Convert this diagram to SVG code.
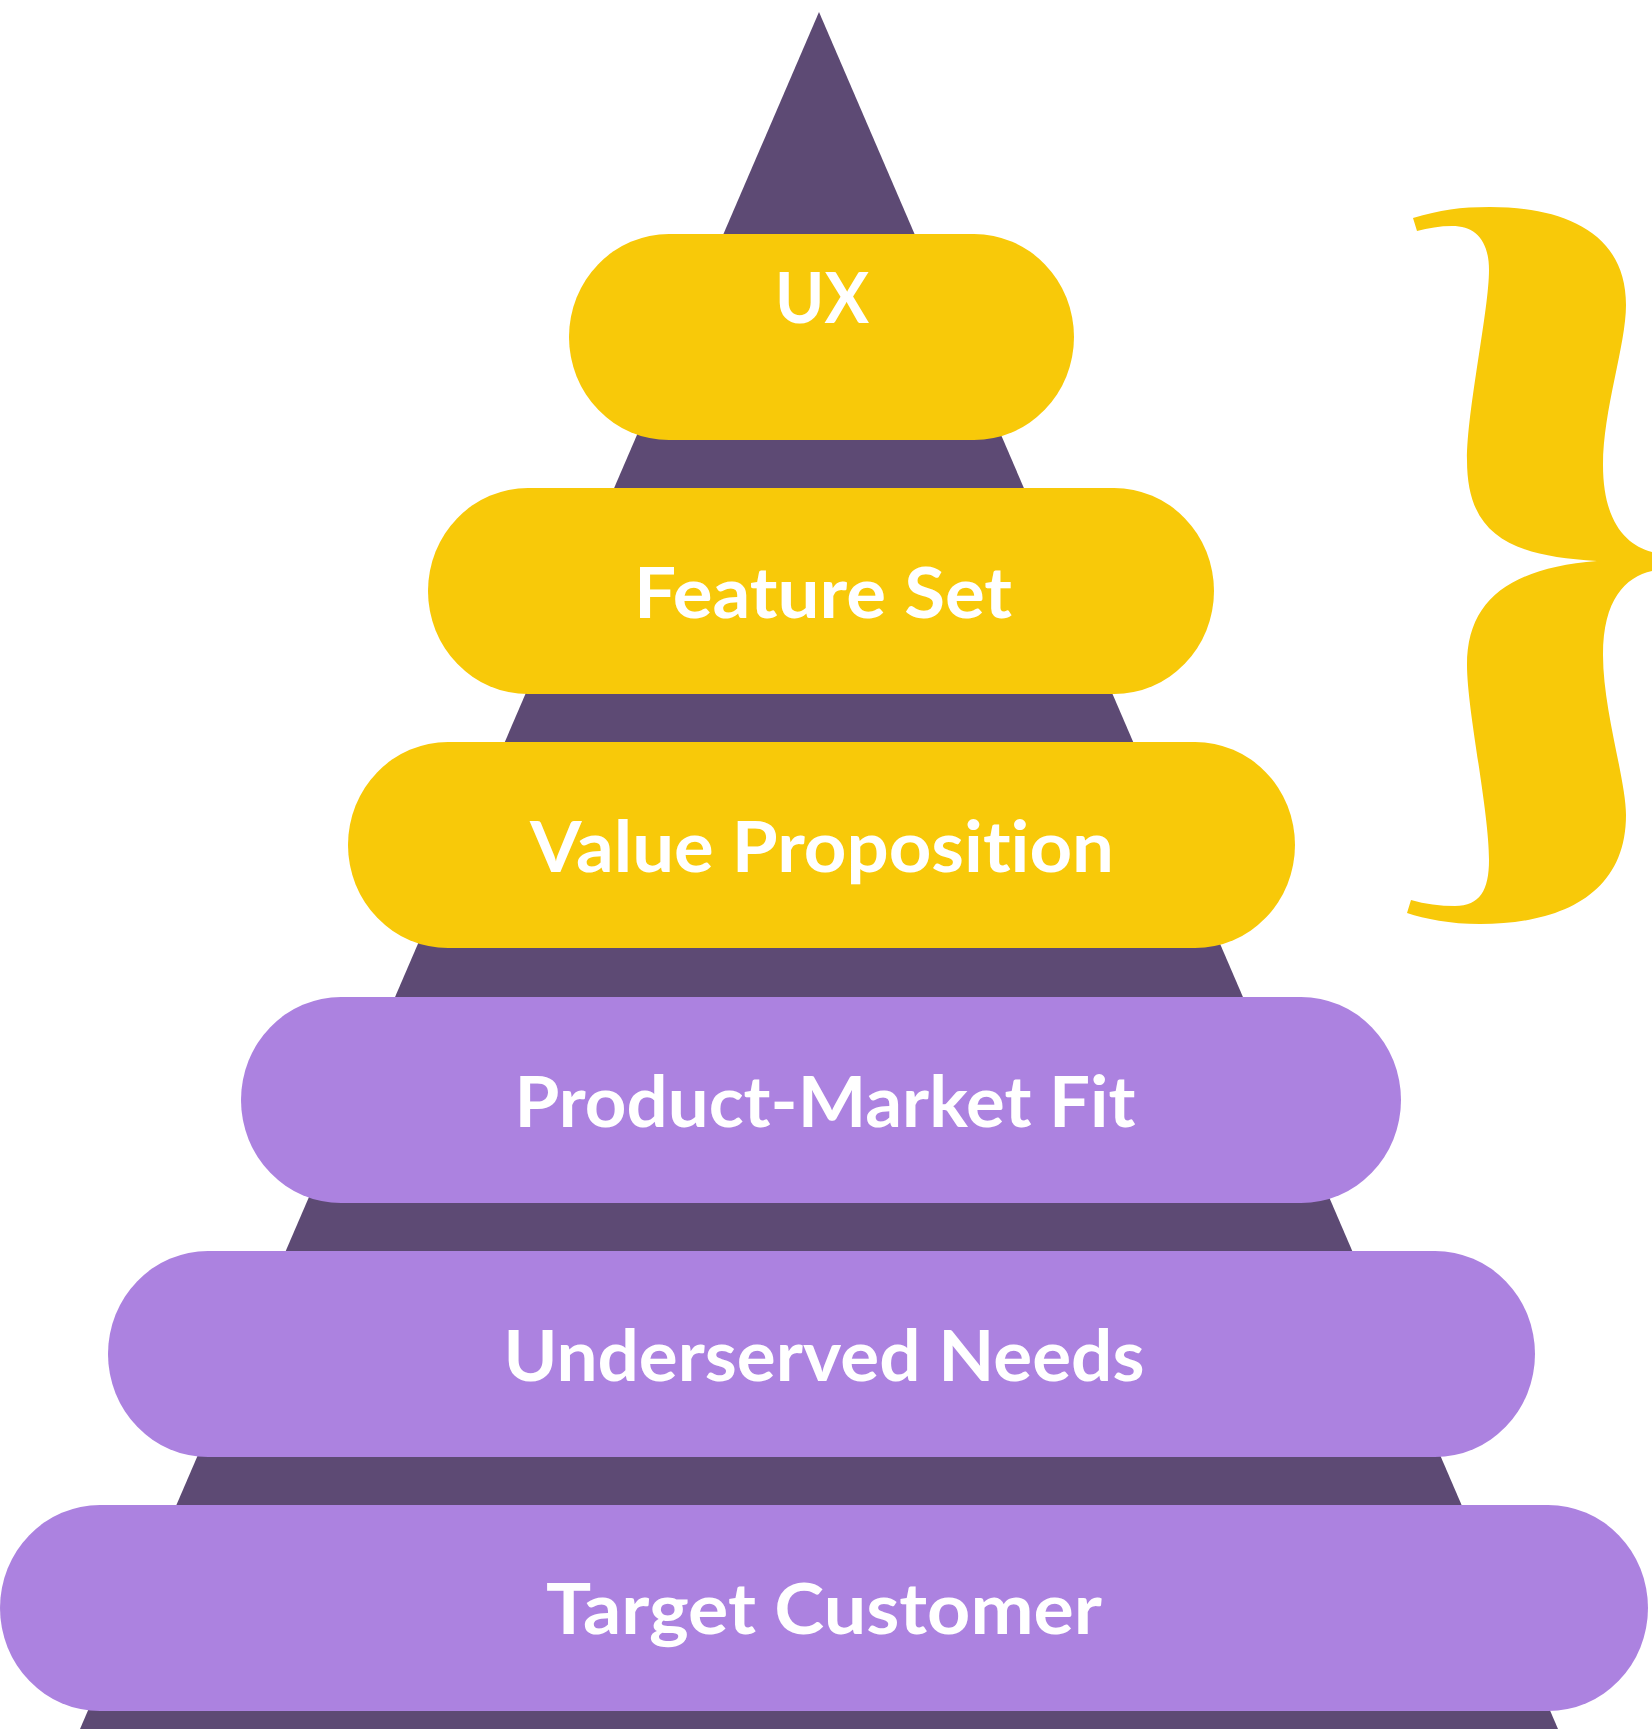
<svg xmlns="http://www.w3.org/2000/svg" width="1652" height="1729" viewBox="0 0 1652 1729">
<style>
.tri{fill:#5D4A74}
.y{fill:#F8C909}
.p{fill:#AC82E0}
.t{font-family:"Lato","Noto Sans","Liberation Sans",sans-serif;font-weight:700;font-size:70px;fill:#FFFFFF;text-anchor:middle;font-variant-ligatures:none;font-feature-settings:"liga" 0,"clig" 0,"dlig" 0}
</style>
<rect width="1652" height="1729" fill="#FFFFFF"/>
<polygon id="pyramid" class="tri" points="819,12 1558,1729 80,1729"/>
<path id="brace" class="y" d="M 1413 218 C 1440 210, 1460 207, 1490 207 C 1560 207, 1626 230, 1626 305 C 1626 345, 1603 410, 1603 465 C 1603 520, 1625 545, 1652 552 L 1652 571 C 1625 577, 1603 600, 1603 655 C 1603 710, 1626 780, 1626 815 C 1626 895, 1560 924, 1480 924 C 1450 924, 1425 919, 1407 913 L 1411 900 C 1425 904, 1440 906, 1455 906 C 1480 906, 1489 890, 1489 860 C 1489 810, 1467 710, 1467 665 C 1467 600, 1510 568, 1597 561 C 1510 556, 1467 535, 1467 460 C 1467 410, 1489 310, 1489 270 C 1489 240, 1475 226, 1452 226 C 1440 226, 1428 228, 1417 231 Z"/>
<g id="ux"><rect class="y" x="569" y="234" width="505" height="206" rx="100" ry="103"/><text class="t" x="822" y="323" textLength="94" lengthAdjust="spacingAndGlyphs">UX</text></g>
<g id="feature-set"><rect class="y" x="428" y="488" width="786" height="206" rx="100" ry="103"/><text class="t" x="823" y="618" textLength="378" lengthAdjust="spacingAndGlyphs">Feature Set</text></g>
<g id="value-proposition"><rect class="y" x="348" y="742" width="947" height="206" rx="100" ry="103"/><text class="t" x="822" y="872" textLength="584" lengthAdjust="spacingAndGlyphs">Value Proposition</text></g>
<g id="product-market-fit"><rect class="p" x="241" y="997" width="1160" height="206" rx="100" ry="103"/><text class="t" x="825" y="1127" textLength="621" lengthAdjust="spacingAndGlyphs">Product-Market Fit</text></g>
<g id="underserved-needs"><rect class="p" x="108" y="1251" width="1427" height="206" rx="100" ry="103"/><text class="t" x="824" y="1381" textLength="641" lengthAdjust="spacingAndGlyphs">Underserved Needs</text></g>
<g id="target-customer"><rect class="p" x="0" y="1505" width="1648" height="206" rx="100" ry="103"/><text class="t" x="824" y="1634" textLength="556" lengthAdjust="spacingAndGlyphs">Target Customer</text></g>
<g id="connectors"></g>
</svg>
